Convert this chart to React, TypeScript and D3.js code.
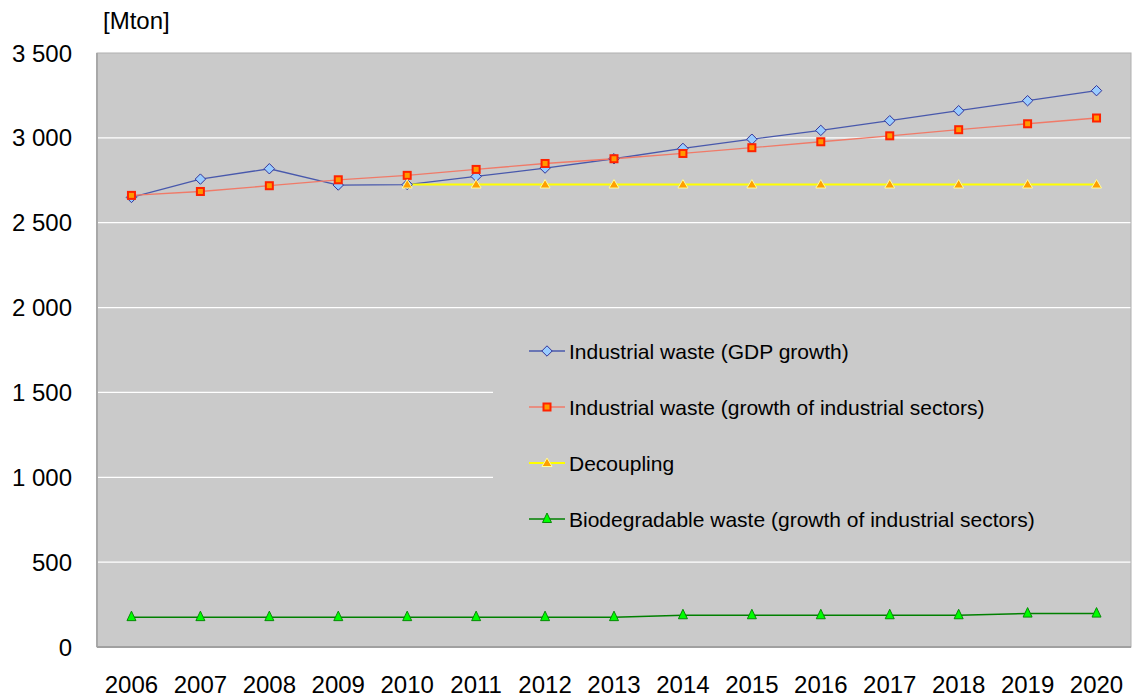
import React from "react";
import * as d3 from "d3";

const years = ["2006","2007","2008","2009","2010","2011","2012","2013","2014","2015","2016","2017","2018","2019","2020"];
const gdpGrowth = [2649, 2757, 2818, 2722, 2725, 2773, 2822, 2877, 2938, 2992, 3044, 3101, 3160, 3219, 3278];
const sectorGrowth = [2661, 2684, 2718, 2753, 2779, 2814, 2849, 2877, 2908, 2942, 2977, 3012, 3048, 3083, 3117];
const decoupling: (number | null)[] = [null, null, null, null, 2725, 2725, 2725, 2725, 2725, 2725, 2725, 2725, 2725, 2725, 2725];
const biodegradable = [176, 176, 176, 176, 176, 176, 176, 176, 187, 187, 187, 187, 187, 197, 197];
const yTicks = [0, 500, 1000, 1500, 2000, 2500, 3000, 3500];
const seriesNames = [
  "Industrial waste (GDP growth)",
  "Industrial waste (growth of industrial sectors)",
  "Decoupling",
  "Biodegradable waste (growth of industrial sectors)",
];

const W = 1133, H = 697;
const L = 97, R = 1131, T = 53, B = 647;
const FONT = "'Liberation Sans', Arial, sans-serif";

type Marker = "diamond" | "square" | "triangleO" | "triangleG";

const series: { name: string; values: (number | null)[]; line: string; lw: number; marker: Marker }[] = [
  { name: seriesNames[0], values: gdpGrowth, line: "#4858ac", lw: 1.3, marker: "diamond" },
  { name: seriesNames[1], values: sectorGrowth, line: "#f07a68", lw: 1.3, marker: "square" },
  { name: seriesNames[2], values: decoupling, line: "#ffff00", lw: 2, marker: "triangleO" },
  { name: seriesNames[3], values: biodegradable, line: "#008000", lw: 1.5, marker: "triangleG" },
];

function MarkerShape({ kind, x, y }: { kind: Marker; x: number; y: number }) {
  if (kind === "diamond") {
    const r = 5.2;
    return <path d={`M${x},${y - r}L${x + r},${y}L${x},${y + r}L${x - r},${y}Z`} fill="#99ccff" stroke="#333399" strokeWidth={1} />;
  }
  if (kind === "square") {
    const s = 7;
    return <rect x={x - s / 2} y={y - s / 2} width={s} height={s} fill="#ff9900" stroke="#ff2200" strokeWidth={2} />;
  }
  if (kind === "triangleO") {
    return <path d={`M${x},${y - 5}L${x + 5},${y + 3.5}L${x - 5},${y + 3.5}Z`} fill="#ff9f00" stroke="#ffff99" strokeWidth={1} />;
  }
  return <path d={`M${x},${y - 6}L${x + 4.5},${y + 3.5}L${x - 4.5},${y + 3.5}Z`} fill="#00ff00" stroke="#078a07" strokeWidth={1} />;
}

export default function App() {
  const x = d3.scalePoint<string>().domain(years).range([L, R]).padding(0.5);
  const y = d3.scaleLinear().domain([0, 3500]).range([B, T]);
  const lineGen = d3
    .line<number | null>()
    .defined((d) => d !== null)
    .x((_, i) => x(years[i]) as number)
    .y((d) => y(d as number));

  const legendRows = [351, 407, 463, 519];

  return (
    <div style={{ position: "absolute", left: 0, top: 0 }}>
      <svg width={W} height={H} style={{ display: "block", background: "#ffffff" }}>
        <rect x={L} y={T} width={R - L} height={B - T} fill="#cacaca" />
        {yTicks.filter((t) => t > 0 && t < 3500).map((t) => (
          <line key={t} x1={L} x2={R} y1={y(t)} y2={y(t)} stroke="#ffffff" strokeWidth={1.2} />
        ))}
        {/* legend background */}
        <rect x={493} y={322} width={R - 493} height={226} fill="#cacaca" />
        <rect x={L} y={T} width={R - L} height={B - T} fill="none" stroke="#b0b0b0" strokeWidth={1} />
        <line x1={L} x2={L} y1={T} y2={B} stroke="#a8a8a8" strokeWidth={2} />
        <line x1={L} x2={R} y1={B} y2={B} stroke="#a0a0a0" strokeWidth={2} />

        {series.map((s) => (
          <path key={s.name} d={lineGen(s.values) || ""} fill="none" stroke={s.line} strokeWidth={s.lw} />
        ))}
        {series.map((s) =>
          s.values.map((v, i) =>
            v === null ? null : <MarkerShape key={s.name + i} kind={s.marker} x={x(years[i]) as number} y={y(v)} />
          )
        )}

        {yTicks.map((t) => (
          <text key={t} x={72} y={y(t)} dy="0.36em" textAnchor="end" fontFamily={FONT} fontSize={24} fill="#000">
            {d3.format(",")(t).replace(/,/g, " ")}
          </text>
        ))}
        {years.map((yr) => (
          <text key={yr} x={x(yr) as number} y={693} textAnchor="middle" fontFamily={FONT} fontSize={24} fill="#000">
            {yr}
          </text>
        ))}
        <text x={103} y={29} fontFamily={FONT} fontSize={24} fill="#000">[Mton]</text>

        {series.map((s, i) => (
          <g key={s.name}>
            <line x1={529} x2={565} y1={legendRows[i]} y2={legendRows[i]} stroke={s.line} strokeWidth={s.lw} />
            <MarkerShape kind={s.marker} x={547} y={legendRows[i]} />
            <text x={569} y={legendRows[i]} dy="0.36em" fontFamily={FONT} fontSize={21} fill="#000">
              {s.name}
            </text>
          </g>
        ))}
      </svg>
    </div>
  );
}
